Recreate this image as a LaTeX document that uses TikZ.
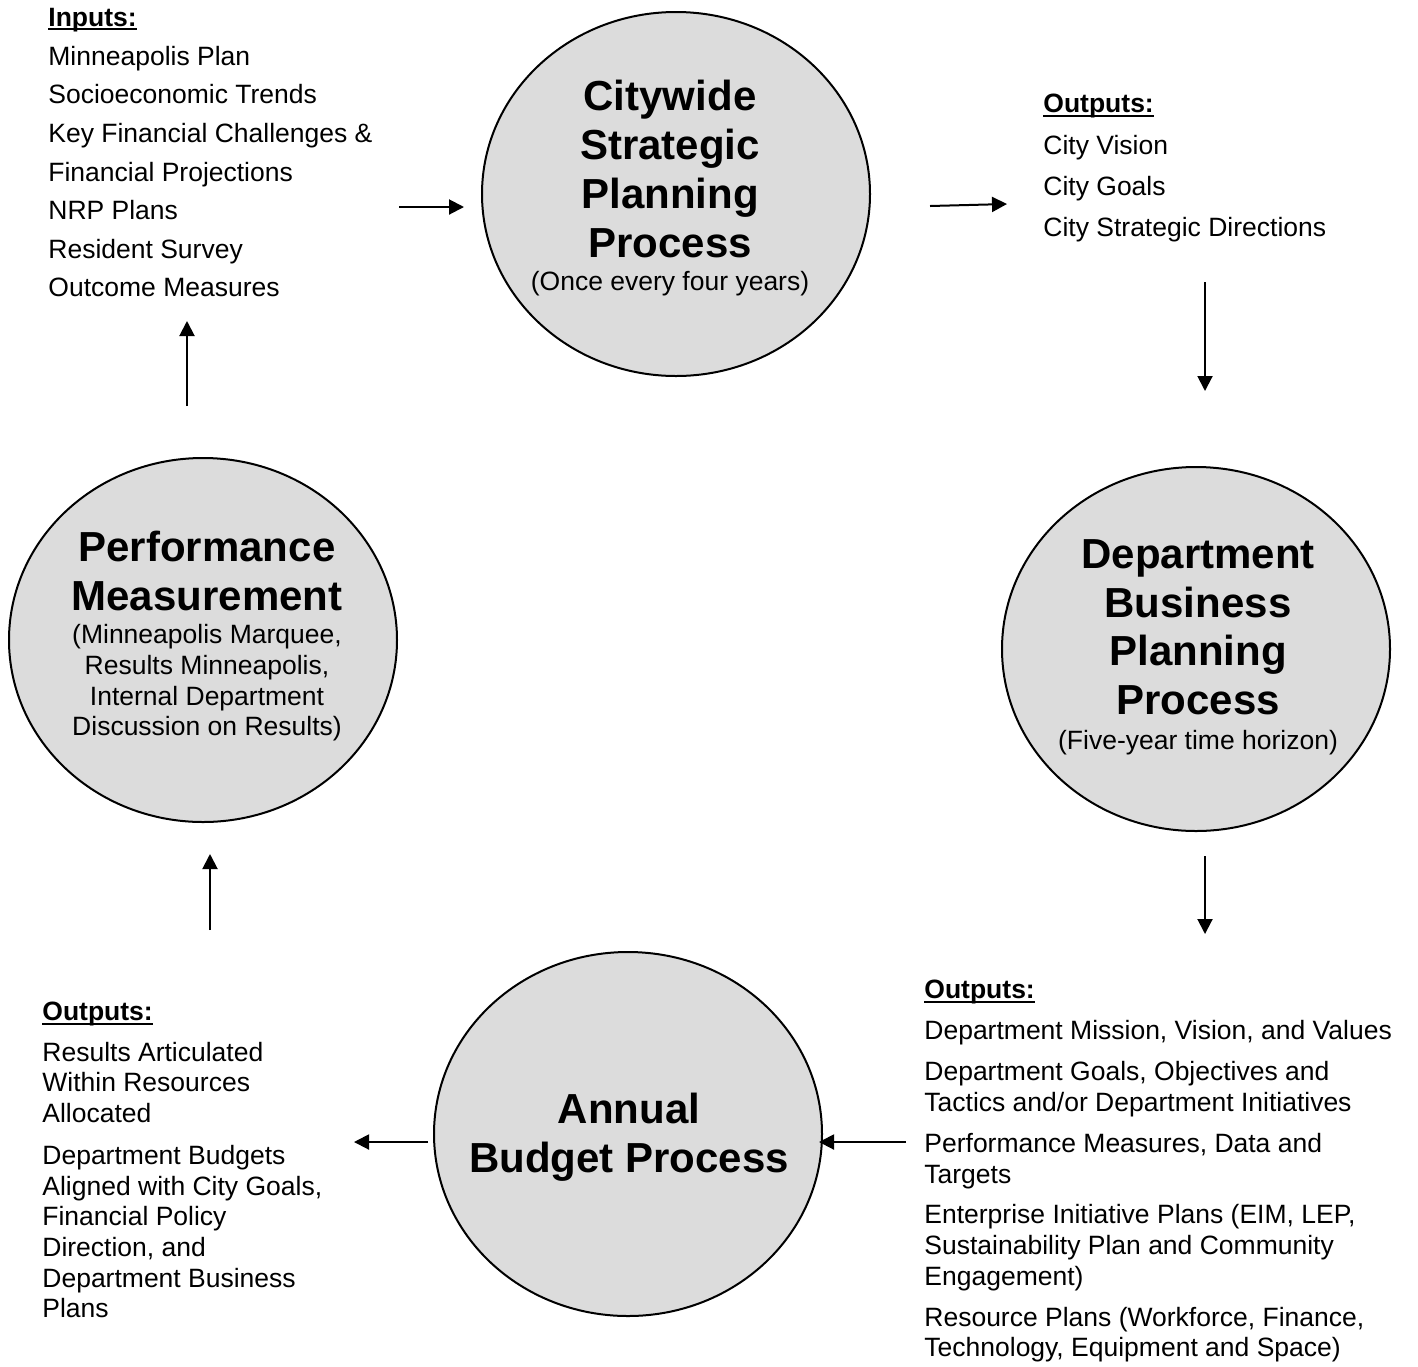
\documentclass[tikz,border=0pt]{standalone}
\usepackage{fontspec}
\setmainfont{Liberation Sans}
\usetikzlibrary{arrows.meta, shapes.geometric}
\definecolor{bubblegray}{HTML}{DCDCDC}
\newcommand{\ulhead}[1]{\setbox0\hbox{\textbf{#1}}\rlap{\rule[-1.9pt]{\wd0}{1.1pt}}\box0}

\begin{document}
\begin{tikzpicture}[x=0.5pt, y=-0.5pt,
    bubble/.style={ellipse, draw, line width=1pt, fill=bubblegray, minimum width=194pt, minimum height=182pt, inner sep=0pt},
    bigtitle/.style={anchor=north, align=center, inner sep=0pt, font=\fontsize{21}{24.4}\selectfont\bfseries},
    subnote/.style={anchor=north, align=center, inner sep=0pt, font=\fontsize{13.25}{15.35}\selectfont},
    itemlist/.style={anchor=north west, align=left, inner sep=0pt, font=\fontsize{13.25}{15.35}\selectfont},
    flow/.style={-{Triangle[length=7.5pt, width=7.5pt]}, line width=1pt}]
      \useasboundingbox (0,0) rectangle (1418,1366);

      \node[bubble] (cspc) at (676,194) {};
      \node[bubble] (dbpp) at (1196,649) {};
      \node[bubble] (perf) at (203,640) {};
      \node[bubble] (abp) at (628,1134) {};

      \node[bigtitle] (cspct) at (670,80) {Citywide\\Strategic\\Planning\\Process};
      \node[subnote] (cspcn) at (670,271) {(Once every four years)};
      \node[bigtitle] (dbppt) at (1198,539) {Department\\Business\\Planning\\Process};
      \node[subnote] (dbppn) at (1198,730) {(Five-year time horizon)};
      \node[bigtitle] (perft) at (207,531) {Performance\\Measurement};
      \node[subnote] (perfn) at (207,624) {(Minneapolis Marquee,\\Results Minneapolis,\\Internal Department\\Discussion on Results)};
      \node[bigtitle] (abpt) at (629,1093) {Annual\\Budget Process};

      \node[itemlist, font=\fontsize{13.25}{19.3}\selectfont] (inputs) at (48,8) {\ulhead{Inputs:}\\Minneapolis Plan\\Socioeconomic Trends\\Key Financial Challenges \&\\Financial Projections\\NRP Plans\\Resident Survey\\Outcome Measures};
      \node[itemlist, font=\fontsize{13.25}{20.6}\selectfont] (cityout) at (1043,94) {\ulhead{Outputs:}\\City Vision\\City Goals\\City Strategic Directions};
      \node[itemlist] (deptout) at (924,980) {\ulhead{Outputs:}\\[5.1pt]
        Department Mission, Vision, and Values\\[5.1pt]
        Department Goals, Objectives and\\Tactics and/or Department Initiatives\\[5.1pt]
        Performance Measures, Data and\\Targets\\[5.1pt]
        Enterprise Initiative Plans (EIM, LEP,\\Sustainability Plan and Community\\Engagement)\\[5.1pt]
        Resource Plans (Workforce, Finance,\\Technology, Equipment and Space)};
      \node[itemlist] (budgout) at (42,1002) {\ulhead{Outputs:}\\[4.8pt]
        Results Articulated\\Within Resources\\Allocated\\[5.5pt]
        Department Budgets\\Aligned with City Goals,\\Financial Policy\\Direction, and\\Department Business\\Plans};

      \coordinate (a1s) at (399,207); \coordinate (a1e) at (464,207);
      \coordinate (a2s) at (930,206); \coordinate (a2e) at (1007,204);
      \coordinate (a3s) at (1205,282); \coordinate (a3e) at (1205,391);
      \coordinate (a4s) at (1205,856); \coordinate (a4e) at (1205,934);
      \coordinate (a5s) at (906,1142); \coordinate (a5e) at (819,1142);
      \coordinate (a6s) at (428,1142); \coordinate (a6e) at (354,1142);
      \coordinate (a7s) at (210,930); \coordinate (a7e) at (210,854);
      \coordinate (a8s) at (187,406); \coordinate (a8e) at (187,321);

      \draw[flow] (a1s) -- (a1e);
      \draw[flow] (a2s) -- (a2e);
      \draw[flow] (a3s) -- (a3e);
      \draw[flow] (a4s) -- (a4e);
      \draw[flow] (a5s) -- (a5e);
      \draw[flow] (a6s) -- (a6e);
      \draw[flow] (a7s) -- (a7e);
      \draw[flow] (a8s) -- (a8e);
    \end{tikzpicture}
\end{document}
